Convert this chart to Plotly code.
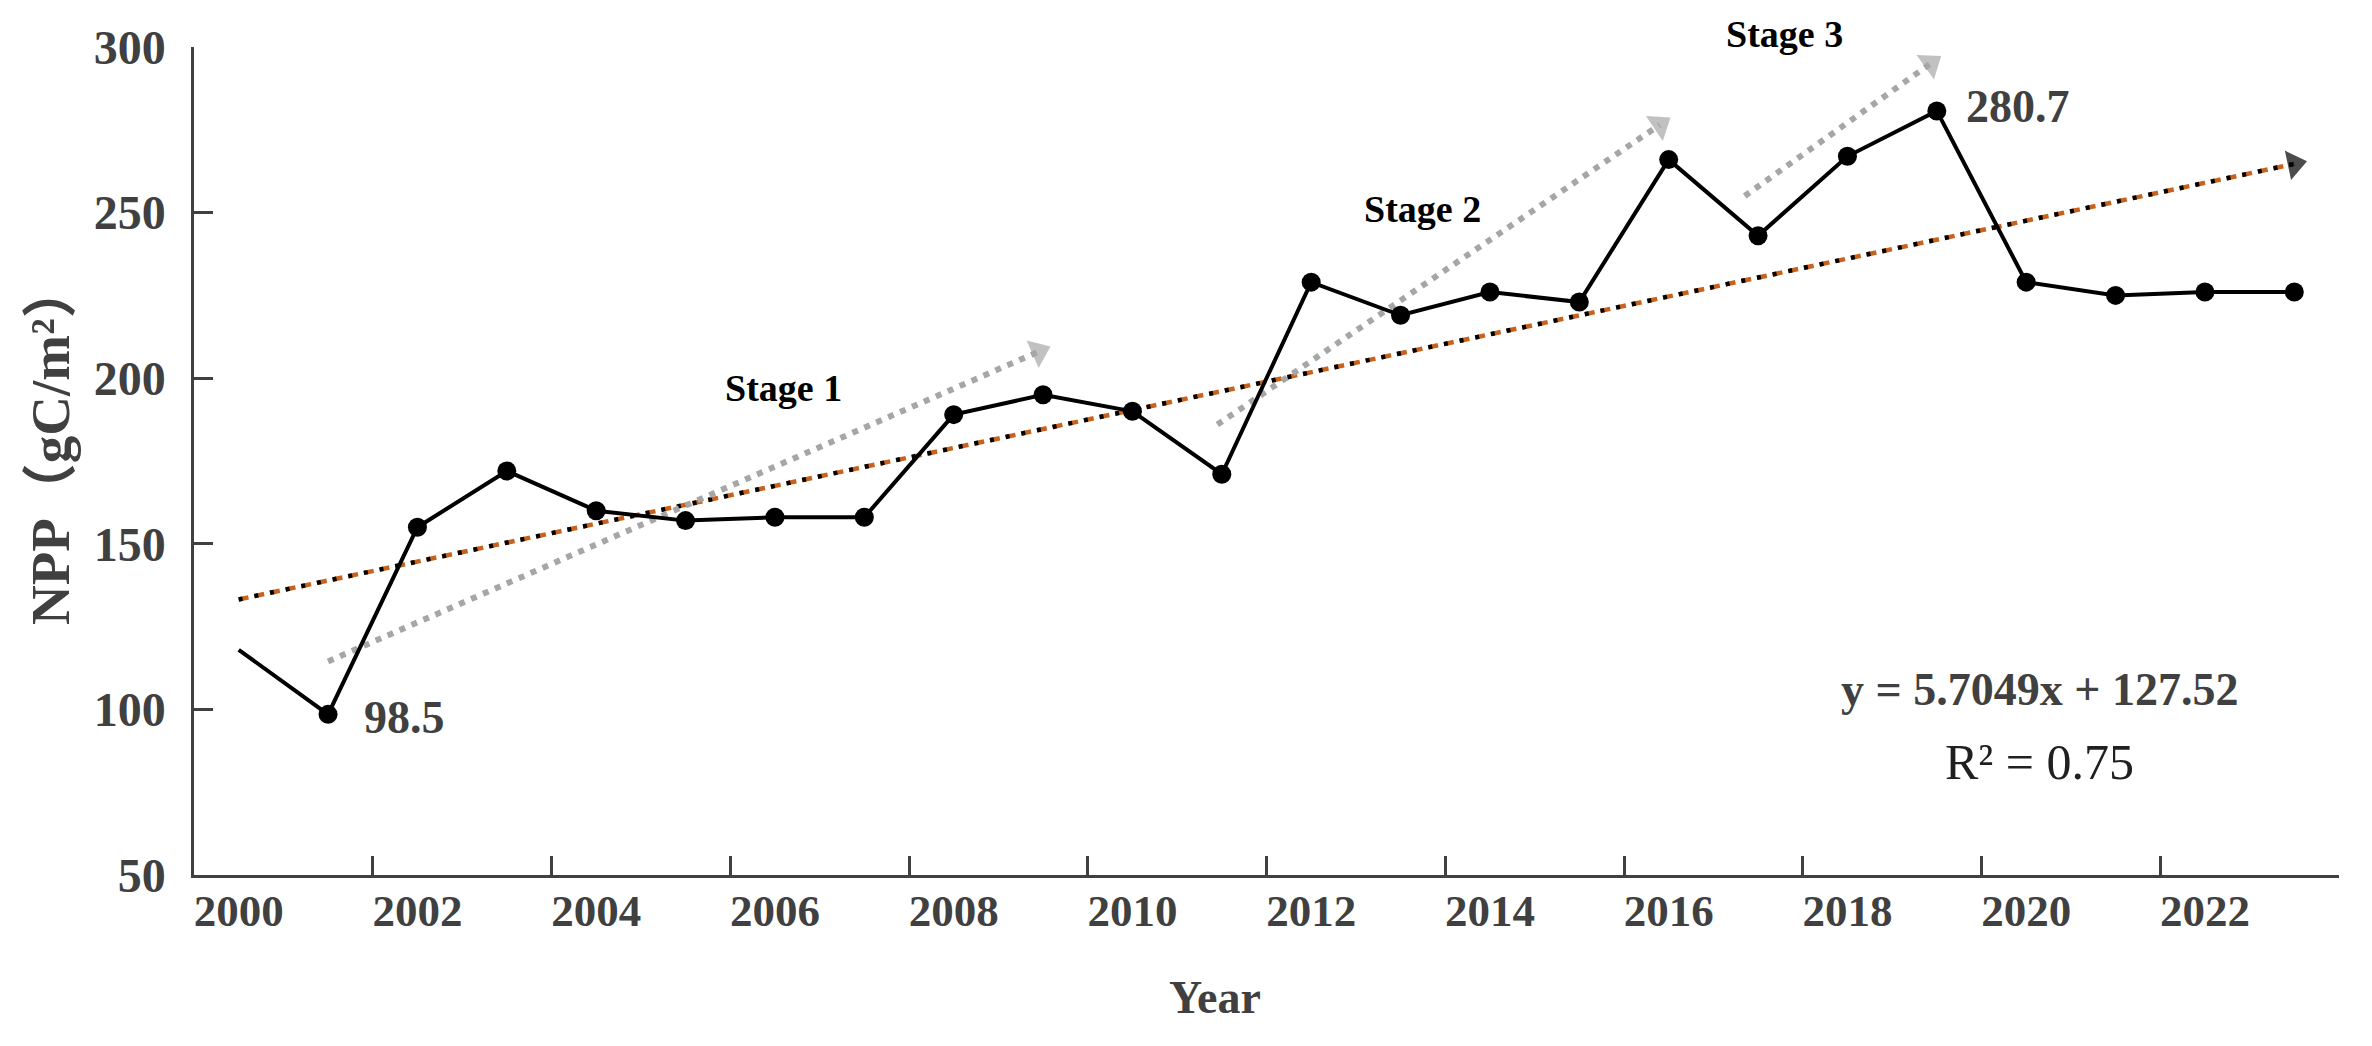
import plotly.graph_objects as go

# ---------------- data ----------------
years = list(range(2000, 2024))
npp = [118, 98.5, 155, 172, 160, 157, 158, 158, 189, 195, 190, 171,
       229, 219, 226, 223, 266, 243, 267, 280.7, 229, 225, 226, 226]
tick_years = ["2000", "2002", "2004", "2006", "2008", "2010",
              "2012", "2014", "2016", "2018", "2020", "2022"]
y_ticks = [50, 100, 150, 200, 250, 300]

# linear trend endpoints (y = 5.7049x + 127.52, x = 1..24)
trend_x = [0, 23]
trend_y = [133.2, 264.7]

# stage arrows: start / end (category index, NPP value)
stage_names = ["Stage 1", "Stage 2", "Stage 3"]
stage_x = [[1.0, 8.95], [10.95, 15.9], [16.85, 18.93]]
stage_y = [[114.5, 208.0], [186.0, 276.5], [255.0, 295.0]]
stage_label_x = [6.1, 13.25, 17.3]
stage_label_y = [197, 258, 311]

idx = list(range(len(years)))

FONT = "Liberation Serif, Times New Roman, Noto Sans CJK SC, serif"
AX = "#404040"

fig = go.Figure()

# trend line: orange dashes + black dots + black arrow head
fig.add_trace(go.Scatter(x=trend_x, y=trend_y, mode="lines",
                         line=dict(color="#C8621C", width=4.5, dash="10px,6px"),
                         hoverinfo="skip", showlegend=False, cliponaxis=False))
fig.add_trace(go.Scatter(x=trend_x, y=trend_y, mode="lines+markers",
                         line=dict(color="black", width=4.5, dash="4px,12px"),
                         marker=dict(symbol="triangle-up", angleref="previous",
                                     size=[0, 26], color="black", line=dict(width=0)),
                         hoverinfo="skip", showlegend=False, cliponaxis=False))

# stage arrows (gray square-dot)
for sx, sy in zip(stage_x, stage_y):
    fig.add_trace(go.Scatter(x=sx, y=sy, mode="lines+markers",
                             line=dict(color="#A6A6A6", width=6, dash="6px,7px"),
                             marker=dict(symbol="triangle-up", angleref="previous",
                                         size=[0, 26], color="#A6A6A6", line=dict(width=0)),
                             hoverinfo="skip", showlegend=False, cliponaxis=False))

# main NPP series
fig.add_trace(go.Scatter(x=idx, y=npp, mode="lines+markers",
                         line=dict(color="black", width=4),
                         marker=dict(color="black", opacity=1, line=dict(width=0),
                                     size=[0] + [19] * (len(npp) - 1)),
                         showlegend=False, cliponaxis=False))

# carrier for the tick-mark axis
fig.add_trace(go.Scatter(x=[None], y=[None], xaxis="x2", yaxis="y",
                         showlegend=False, hoverinfo="skip"))

annotations = []
for name, lx, ly in zip(stage_names, stage_label_x, stage_label_y):
    annotations.append(dict(x=lx, y=(ly - 50) / 250.0, xref="x", yref="paper",
                            text="<b>%s</b>" % name, showarrow=False,
                            font=dict(family=FONT, size=38, color="black")))
annotations += [
    dict(x=1.38, y=97.5, xref="x", yref="y", xanchor="left", text="<b>98.5</b>",
         showarrow=False, font=dict(family=FONT, size=46, color=AX)),
    dict(x=19.3, y=282, xref="x", yref="y", xanchor="left", text="<b>280.7</b>",
         showarrow=False, font=dict(family=FONT, size=46, color=AX)),
    dict(x=20.15, y=106, xref="x", yref="y", text="<b>y = 5.7049x + 127.52</b>",
         showarrow=False, font=dict(family=FONT, size=46, color=AX)),
    dict(x=20.15, y=84, xref="x", yref="y", text="R² = 0.75",
         showarrow=False, font=dict(family=FONT, size=50, color="#202020")),
    dict(x=0.476, y=-0.181, xref="paper", yref="paper", text="<b>Year</b>",
         showarrow=False, font=dict(family=FONT, size=46, color=AX)),
    dict(x=-0.082, y=0.52, xref="paper", yref="paper", text="<b>NPP（gC/m²）</b>",
         textangle=-90, showarrow=False, font=dict(family=FONT, size=55, color=AX)),
]

fig.update_layout(
    width=2372, height=1046,
    margin=dict(l=194, r=33, t=47, b=171),
    paper_bgcolor="white", plot_bgcolor="white",
    font=dict(family=FONT, color=AX),
    annotations=annotations,
    xaxis=dict(range=[-0.5, 23.5], tickvals=idx[::2], ticktext=tick_years,
               ticks="", showgrid=False, zeroline=False, showline=True,
               linecolor=AX, linewidth=2.5, ticklabelstandoff=-6,
               tickfont=dict(family=FONT, size=45, color=AX, weight="bold")),
    xaxis2=dict(range=[-0.5, 23.5], overlaying="x", anchor="y", side="bottom",
                tickvals=[i + 1.5 for i in range(0, 24, 2)], ticks="inside",
                ticklen=19, tickwidth=2.5, tickcolor=AX, showticklabels=False,
                showgrid=False, zeroline=False, showline=False),
    yaxis=dict(range=[50, 300], tickvals=y_ticks, ticks="inside", ticklen=19,
               tickwidth=2.5, tickcolor=AX, showgrid=False, zeroline=False,
               showline=True, linecolor=AX, linewidth=2.5, ticklabelstandoff=16,
               tickfont=dict(family=FONT, size=48, color=AX, weight="bold")),
)

fig.write_html("out.html", config={"displayModeBar": False},
               post_script="document.body.style.margin='0';document.body.style.overflow='hidden';")
